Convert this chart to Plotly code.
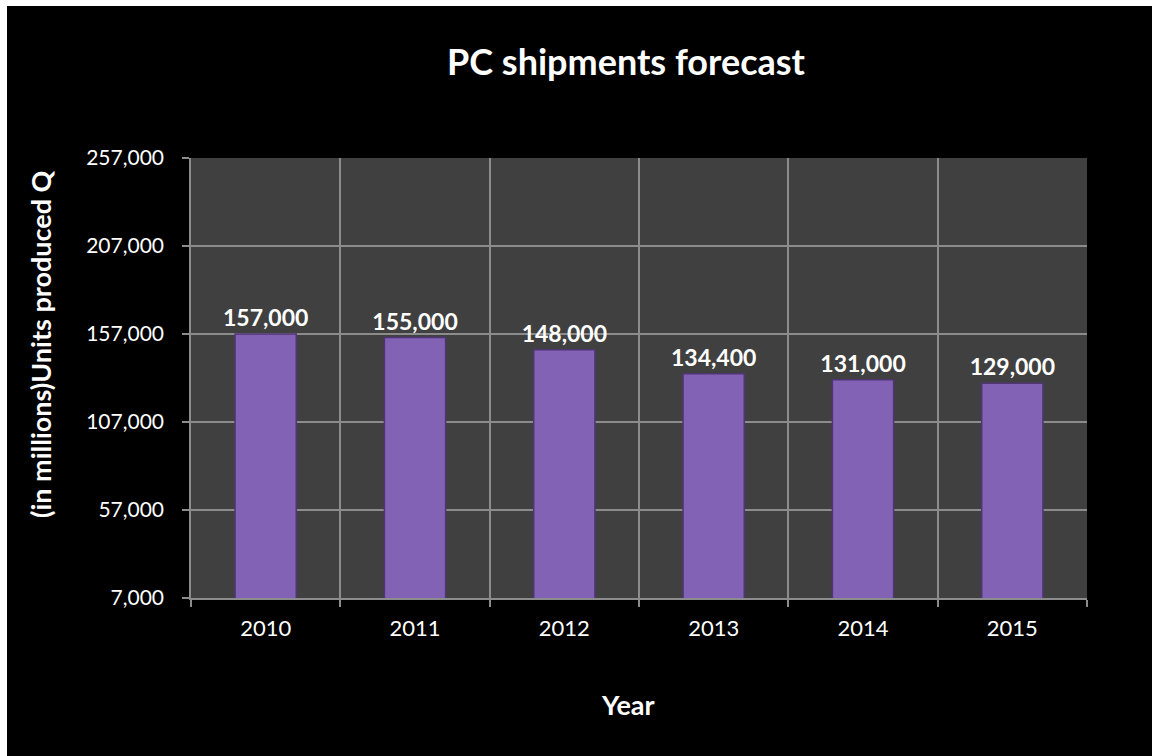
import plotly.graph_objects as go

# Forecast data
years = ["2010", "2011", "2012", "2013", "2014", "2015"]
units = [157000, 155000, 148000, 134400, 131000, 129000]
y_ticks = [7000, 57000, 107000, 157000, 207000, 257000]

W, H = 1152, 756
L, R, T, B = 191, 65, 158, 158
pw, ph = W - L - R, H - T - B

def px_x(px):
    return (px - L) / pw

def px_y(py):
    return (H - B - py) / ph

FONT = "Lato"
GRID = "#8c8c8c"

fig = go.Figure()
fig.add_trace(go.Bar(
    x=years,
    y=units,
    width=0.41,
    marker=dict(color="#8262b4", line=dict(color="#4e3574", width=1.5)),
    text=[f"{v:,}" for v in units],
    textposition="outside",
    constraintext="none",
    textfont=dict(family=FONT, size=23, color="white", weight="bold"),
    cliponaxis=False,
    hoverinfo="x+y",
))

fig.update_layout(
    width=W, height=H,
    margin=dict(l=L, r=R, t=T, b=B),
    paper_bgcolor="white",
    plot_bgcolor="#404040",
    showlegend=False,
    title=dict(
        text="<b>PC shipments forecast</b>",
        font=dict(family=FONT, size=36, color="white"),
        x=626 / W, xanchor="center", xref="container",
        y=1 - 62 / H, yanchor="middle", yref="container",
    ),
    shapes=[
        # dark backdrop for the whole chart
        dict(type="rect", xref="paper", yref="paper",
             x0=px_x(7), x1=px_x(W + 5), y0=px_y(H + 5), y1=px_y(6),
             fillcolor="black", line=dict(width=0), layer="below"),
        # plot area fill
        dict(type="rect", xref="paper", yref="paper",
             x0=0, x1=1, y0=0, y1=1,
             fillcolor="#404040", line=dict(width=0), layer="below"),
    ],
    annotations=[
        dict(text="<b>(in millions)Units produced Q</b>", textangle=-90,
             xref="paper", yref="paper", x=px_x(40), y=px_y(344),
             xanchor="center", yanchor="middle", showarrow=False,
             font=dict(family=FONT, size=27, color="white")),
        dict(text="<b>Year</b>",
             xref="paper", yref="paper", x=px_x(628), y=px_y(704),
             xanchor="center", yanchor="middle", showarrow=False,
             font=dict(family=FONT, size=27, color="white")),
    ],
    xaxis=dict(
        type="category",
        tickson="boundaries",
        showgrid=True, gridcolor=GRID, gridwidth=1.5,
        showline=True, linecolor=GRID, linewidth=1.5,
        ticks="outside", ticklen=7, tickcolor=GRID, tickwidth=1.5,
        ticklabelstandoff=10,
        tickfont=dict(family=FONT, size=22, color="white"),
    ),
    yaxis=dict(
        range=[7000, 257000],
        tickvals=y_ticks,
        ticktext=[f"{v:,}" for v in y_ticks],
        showgrid=True, gridcolor=GRID, gridwidth=1.5,
        showline=True, linecolor=GRID, linewidth=1.5,
        ticks="outside", ticklen=7, tickcolor=GRID, tickwidth=1.5,
        ticklabelstandoff=14,
        tickfont=dict(family=FONT, size=21, color="white"),
        zeroline=False,
    ),
)

fig.write_html("out.html")
